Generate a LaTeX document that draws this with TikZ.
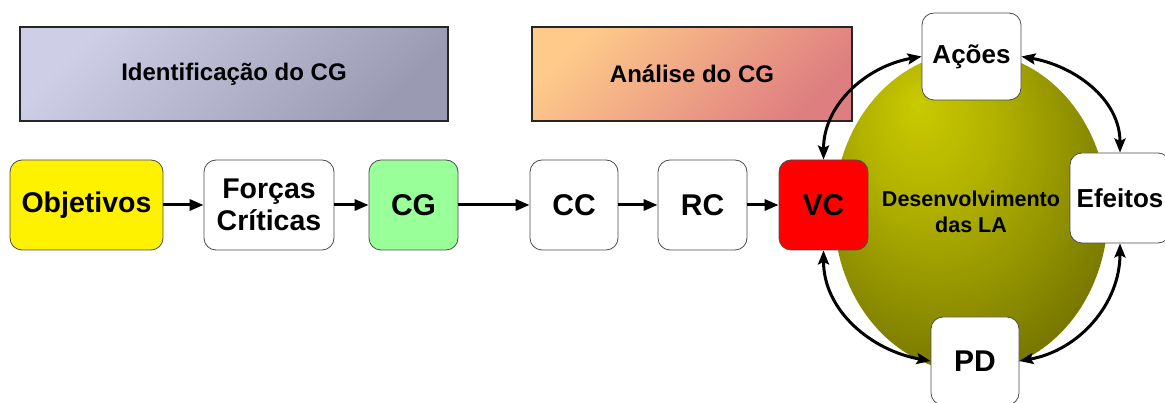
\documentclass[tikz,border=0pt]{standalone}
\usepackage{fontspec}
\setmainfont{Liberation Sans}
\usetikzlibrary{arrows.meta,shapes.geometric}
\definecolor{olA}{HTML}{CACA00}
\definecolor{olB}{HTML}{B2B200}
\definecolor{olC}{HTML}{8A8A00}
\definecolor{olD}{HTML}{5E5E00}
\definecolor{olE}{HTML}{4E4E00}
\definecolor{idA}{HTML}{CECEE7}
\definecolor{idB}{HTML}{9A9AB2}
\definecolor{anA}{HTML}{FFCA8A}
\definecolor{anB}{HTML}{DE7E80}
\definecolor{cggreen}{HTML}{99FF99}
\pgfdeclareradialshading{olball}{\pgfpoint{-10bp}{17bp}}{color(0bp)=(olA); color(12bp)=(olB); color(27bp)=(olC); color(42bp)=(olD); color(60bp)=(olE)}
\begin{document}
\begin{tikzpicture}[x=1pt,y=1pt,
  box/.style={draw=black!70, line width=0.8pt, rounded corners=12pt, minimum height=90pt, inner sep=0pt, align=center, font=\bfseries\fontsize{30}{34}\selectfont},
  band/.style={draw=black!85, line width=1.2pt, minimum height=94pt, inner sep=0pt, font=\bfseries\fontsize{24}{28}\selectfont},
  arr/.style={line width=3pt, -{Triangle[length=14pt,width=11pt]}},
  darr/.style={line width=3pt, {Stealth[length=14pt,width=11pt,inset=2.5pt]}-{Stealth[length=14pt,width=11pt,inset=2.5pt]}}]
\useasboundingbox (0,0) rectangle (1165,-403);
\node[band, minimum width=428pt, top color=idA, bottom color=idB, shading angle=45] (id) at (234,-74) {Identificação do CG};
\node[band, minimum width=320pt, top color=anA, bottom color=anB, shading angle=45] (an) at (692,-74) {Análise do CG};
\node[ellipse, minimum width=274pt, minimum height=320pt, inner sep=0pt, shading=olball, align=center, font=\bfseries\fontsize{21.5}{26}\selectfont] (la) at (971,-212) {Desenvolvimento\\das LA};
\node[box, fill=yellow, minimum width=153pt, font=\bfseries\fontsize{28.5}{32}\selectfont] (obj) at (86.5,-205) {Objetivos};
\node[box, fill=white, minimum width=130pt, font=\bfseries\fontsize{28.5}{32}\selectfont] (fc) at (269,-205) {Forças\\Críticas};
\node[box, fill=cggreen, minimum width=89pt] (cg) at (413.5,-205) {CG};
\node[box, fill=white, minimum width=88pt] (cc) at (574,-205) {CC};
\node[box, fill=white, minimum width=89pt] (rc) at (702.5,-205) {RC};
\node[box, fill=red, minimum width=89pt] (vc) at (823.5,-205) {VC};
\node[box, fill=white, minimum width=99pt, minimum height=87pt, font=\bfseries\fontsize{26}{30}\selectfont] (ac) at (971.5,-56.5) {Ações};
\node[box, fill=white, minimum width=100pt, minimum height=90pt, font=\bfseries\fontsize{26}{30}\selectfont] (ef) at (1120,-198) {Efeitos};
\node[box, fill=white, minimum width=88pt, minimum height=88pt] (pd) at (975,-361) {PD};
\draw[arr] (obj) -- (fc);
\draw[arr] (fc) -- (cg);
\draw[arr] (cg) -- (cc);
\draw[arr] (cc) -- (rc);
\draw[arr] (rc) -- (vc);
\draw[darr] (vc.north) to[out=90,in=190] (ac.west);
\draw[darr] (ac.east) to[out=-10,in=90] (ef.north);
\draw[darr] (ef.south) to[out=-90,in=10] (pd.east);
\draw[darr] (pd.west) to[out=170,in=-90] (vc.south);
\end{tikzpicture}
\end{document}
